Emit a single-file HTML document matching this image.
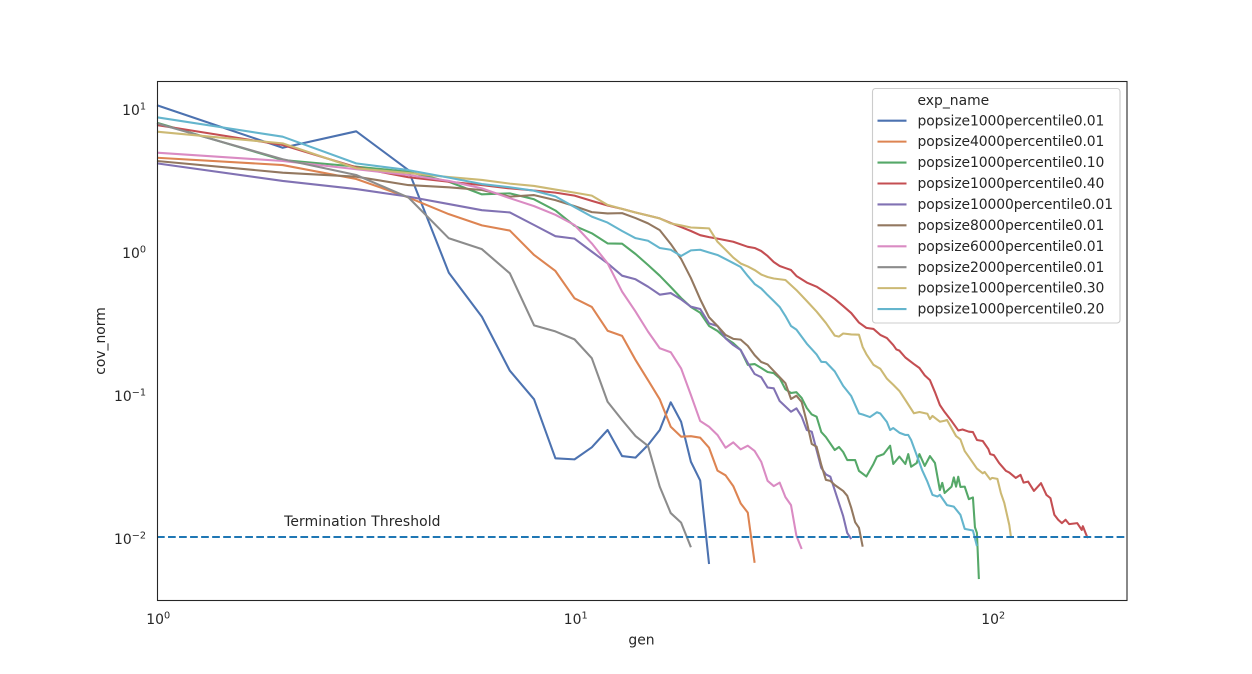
<!DOCTYPE html>
<html lang="en">
<head>
<meta charset="utf-8">
<title>cov_norm vs gen</title>
<style>
html,body{margin:0;padding:0;background:#fff;width:1252px;height:674px;overflow:hidden}
svg{display:block}
text{font-family:"DejaVu Sans","Liberation Sans",sans-serif;font-size:13.9px;fill:#262626}
</style>
</head>
<body>
<svg id="chart" xmlns="http://www.w3.org/2000/svg" width="1252" height="674" viewBox="0 0 1252 674">
  <rect x="157" y="82" width="970" height="518.5" fill="#fff"/>
  <g id="series-layer" fill="none"></g>
  <g id="threshold-layer"></g>
  <rect x="157.5" y="81.5" width="969.5" height="519" fill="none" stroke="#262626" stroke-width="1.1"/>
  <g id="tick-layer"></g>
  <text x="641.5" y="644.5" text-anchor="middle">gen</text>
  <text transform="translate(105,341) rotate(-90)" text-anchor="middle">cov_norm</text>
  <g id="legend-layer"></g>
</svg>
<script>
const xDomain = [1, 210.5];
const yDomain = [0.003597, 15.2];
const xTickExponents = [0, 1, 2];
const yTickExponents = [-2, -1, 0, 1];
const thresholdValue = 0.01;
const thresholdLabel = "Termination Threshold";
const thresholdLabelGen = 2;
const legendTitle = "exp_name";

const blueGens = [1,2,3,4,5,6,7,8,9,10,11,12,13,14,15,16,17,18,19,20,21];
const blueValues = [10.45,5.27,6.87,3.68,0.705,0.347,0.1455,0.0918,0.0355,0.0349,0.0424,0.056,0.0368,0.0359,0.044,0.056,0.0875,0.064,0.0336,0.0248,0.00647];

const orangeGens = [1,2,3,4,5,6,7,8,9,10,11,12,13,14,15,16,17,18,19,20,21,22,23,24,25,26,27];
const orangeValues = [4.49,3.99,3.19,2.37,1.81,1.51,1.39,0.938,0.725,0.467,0.406,0.277,0.255,0.173,0.125,0.0918,0.059,0.0503,0.0507,0.0495,0.0421,0.0291,0.027,0.0227,0.0172,0.0148,0.0066];

const greenGens = [1,2,3,4,5,6,7,8,9,10,11,12,13,14,15,16,17,18,19,20,21,22,23,24,25,26,27,28,29,30,31,32,33,34,35,36,37,38,39,40,42,43,44,45,47,48,50,52,53,55,57,58,60,62,63,64,66,67,69,71,73,75,76,77,80,81,82,83,84,86,88,90,91,92,93];
const greenValues = [7.89,4.33,3.89,3.58,3.05,2.49,2.53,2.3,1.92,1.5,1.33,1.13,1.125,0.953,0.798,0.672,0.56,0.469,0.406,0.37,0.299,0.276,0.246,0.227,0.203,0.16,0.162,0.152,0.1425,0.14,0.129,0.108,0.1016,0.103,0.0938,0.0798,0.0719,0.0694,0.0542,0.05,0.0406,0.0426,0.0393,0.0345,0.0345,0.029,0.0265,0.0324,0.0365,0.038,0.0435,0.0324,0.0365,0.0324,0.038,0.031,0.0329,0.038,0.0314,0.0368,0.0329,0.0213,0.0239,0.0203,0.0225,0.0261,0.0225,0.0264,0.0224,0.0225,0.0184,0.0189,0.0117,0.01067,0.00508];

const redGens = [1,2,3,4,5,6,7,8,9,10,11,12,13,14,15,16,17,18,19,20,21,22,24,26,27,28,29,30,31,32,33,34,36,38,40,42,44,46,48,50,52,54,56,58,59,60,62,65,67,69,71,73,75,77,80,83,85,88,90,92,95,98,99,101,104,108,110,114,117,119,122,126,131,135,138,141,144,147,150,153,160,164,165,169,170];
const redValues = [7.6,5.51,3.85,3.28,3.05,2.89,2.74,2.65,2.56,2.44,2.24,2.08,1.97,1.86,1.77,1.69,1.57,1.47,1.38,1.29,1.25,1.22,1.16,1.07,1.05,1.0,0.923,0.838,0.785,0.76,0.736,0.669,0.602,0.563,0.511,0.462,0.412,0.368,0.316,0.29,0.285,0.259,0.246,0.22,0.205,0.201,0.18,0.162,0.152,0.135,0.125,0.103,0.0838,0.0748,0.0647,0.0556,0.0565,0.0545,0.0542,0.0477,0.0469,0.0412,0.038,0.0374,0.0329,0.029,0.0282,0.0259,0.0272,0.024,0.0244,0.021,0.0238,0.0197,0.0187,0.0143,0.0132,0.0125,0.0132,0.0123,0.0125,0.0112,0.0119,0.01,0.0099];

const purpleGens = [1,2,3,4,5,6,7,8,9,10,11,12,13,14,15,16,17,18,19,20,21,22,23,24,25,26,27,28,29,30,31,33,34,35,36,37,39,40,41,44,45,46];
const purpleValues = [4.1,3.09,2.71,2.4,2.13,1.93,1.86,1.52,1.27,1.22,0.99,0.82,0.672,0.634,0.563,0.495,0.508,0.459,0.408,0.393,0.312,0.299,0.245,0.22,0.203,0.165,0.138,0.131,0.111,0.1096,0.0893,0.0752,0.0794,0.0694,0.056,0.0545,0.0304,0.0274,0.0264,0.014,0.01067,0.00968];

const brownGens = [1,2,3,4,5,6,7,8,9,10,11,12,13,14,15,16,17,18,19,20,21,22,23,24,25,26,27,28,29,30,32,33,34,35,36,37,38,39,40,41,42,43,44,45,46,47,48,49];
const brownValues = [4.26,3.53,3.31,2.89,2.79,2.67,2.4,2.46,2.27,2.06,1.87,1.83,1.84,1.7,1.56,1.4,1.12,0.88,0.647,0.46,0.344,0.299,0.259,0.243,0.24,0.217,0.187,0.1675,0.161,0.145,0.119,0.0923,0.0973,0.0879,0.0637,0.0447,0.0428,0.0319,0.0251,0.0247,0.0231,0.022,0.021,0.0194,0.016,0.0127,0.0116,0.00855];

const pinkGens = [1,2,3,4,5,6,7,8,9,10,11,12,13,14,15,16,17,18,19,20,21,22,23,24,25,26,27,28,29,30,31,32,33,34,35];
const pinkValues = [4.87,4.26,3.73,3.4,3.09,2.74,2.34,2.06,1.79,1.52,1.13,0.82,0.52,0.377,0.273,0.209,0.196,0.151,0.0984,0.0647,0.059,0.0517,0.0421,0.0459,0.041,0.0435,0.04,0.0336,0.0247,0.0227,0.024,0.019,0.0167,0.0102,0.00824];

const grayGens = [1,2,3,4,5,6,7,8,9,10,11,12,13,14,15,16,17,18,19];
const grayValues = [7.8,4.38,3.4,2.37,1.227,1.03,0.698,0.302,0.274,0.241,0.178,0.0883,0.0658,0.0508,0.0433,0.0225,0.0147,0.0126,0.00848];

const tanGens = [1,2,3,4,5,6,7,8,9,10,11,12,13,14,15,16,17,18,19,20,21,22,23,24,25,26,27,28,29,30,32,34,36,38,40,42,43,44,46,48,49,50,52,54,56,58,60,62,65,67,70,71,72,75,77,78,80,82,84,86,88,92,95,96,99,100,103,105,107,110,111];
const tanValues = [6.83,5.66,3.79,3.51,3.29,3.14,2.96,2.85,2.69,2.56,2.44,2.1,1.97,1.86,1.77,1.69,1.56,1.51,1.46,1.45,1.44,1.16,1.02,0.9,0.818,0.78,0.736,0.685,0.658,0.642,0.627,0.533,0.447,0.377,0.314,0.256,0.252,0.265,0.261,0.26,0.213,0.19,0.16,0.15,0.128,0.116,0.105,0.0908,0.0733,0.0748,0.0728,0.0668,0.0702,0.064,0.065,0.0658,0.0578,0.0508,0.0481,0.0399,0.0363,0.0301,0.0279,0.0285,0.0253,0.0259,0.0255,0.0203,0.0173,0.0121,0.01];

const cyanGens = [1,2,3,4,5,6,7,8,9,10,11,12,13,14,15,16,17,18,19,20,21,22,23,24,25,26,27,28,29,30,31,32,33,34,36,38,39,40,42,44,46,48,49,51,53,54,56,57,58,60,62,63,64,66,68,70,72,74,75,78,81,84,86,90,92];
const cyanValues = [8.61,6.3,4.1,3.68,3.26,2.94,2.79,2.64,2.41,2.03,1.74,1.58,1.38,1.23,1.18,1.05,1.02,0.923,1.01,1.02,0.976,0.938,0.879,0.824,0.773,0.669,0.588,0.547,0.492,0.447,0.406,0.351,0.299,0.282,0.225,0.189,0.168,0.167,0.144,0.114,0.0968,0.0731,0.0719,0.069,0.0745,0.0731,0.0637,0.056,0.0578,0.0536,0.0517,0.0517,0.0477,0.0374,0.0294,0.0244,0.0197,0.0192,0.0197,0.0167,0.0163,0.0143,0.0114,0.0111,0.00865];

const seriesNames = ["popsize1000percentile0.01","popsize4000percentile0.01","popsize1000percentile0.10","popsize1000percentile0.40","popsize10000percentile0.01","popsize8000percentile0.01","popsize6000percentile0.01","popsize2000percentile0.01","popsize1000percentile0.30","popsize1000percentile0.20"];
const seriesGens = [blueGens,orangeGens,greenGens,redGens,purpleGens,brownGens,pinkGens,grayGens,tanGens,cyanGens];
const seriesValues = [blueValues,orangeValues,greenValues,redValues,purpleValues,brownValues,pinkValues,grayValues,tanValues,cyanValues];
const seriesColors = ["#4c72b0","#dd8452","#55a868","#c44e52","#8172b3","#937860","#da8bc3","#8c8c8c","#ccb974","#64b5cd"];

const SVG_NS = "http://www.w3.org/2000/svg";
const plotLeft = 157, plotRight = 1127, plotTop = 82, plotBottom = 600.5;

function xScale(gen) {
  const lo = Math.log10(xDomain[0]), hi = Math.log10(xDomain[1]);
  return plotLeft + (Math.log10(gen) - lo) / (hi - lo) * (plotRight - plotLeft);
}
function yScale(value) {
  const lo = Math.log10(yDomain[0]), hi = Math.log10(yDomain[1]);
  return plotBottom - (Math.log10(value) - lo) / (hi - lo) * (plotBottom - plotTop);
}
function svgEl(tag, parent) {
  const el = document.createElementNS(SVG_NS, tag);
  parent.appendChild(el);
  return el;
}
function powerLabel(parent, x, y, anchor, exponent) {
  const t = svgEl("text", parent);
  t.setAttribute("x", x);
  t.setAttribute("y", y);
  t.setAttribute("text-anchor", anchor);
  
  
  const base = svgEl("tspan", t);
  base.textContent = "10";
  const sup = svgEl("tspan", t);
  sup.setAttribute("dy", "-5.6");
  sup.setAttribute("font-size", "9.7");
  sup.style.fontSize = "9.7px";
  sup.textContent = String(exponent).replace("-", "\u2212");
  return t;
}

const seriesLayer = document.getElementById("series-layer");
seriesNames.forEach(function (name, i) {
  const points = seriesGens[i].map(function (g, k) {
    return xScale(g).toFixed(2) + "," + yScale(seriesValues[i][k]).toFixed(2);
  });
  const line = svgEl("polyline", seriesLayer);
  line.setAttribute("points", points.join(" "));
  line.setAttribute("stroke", seriesColors[i]);
  line.setAttribute("stroke-width", "2.08");
  line.setAttribute("stroke-linejoin", "round");
  line.setAttribute("fill", "none");
  
  
  line.setAttribute("data-series", name);
});

const thresholdLayer = document.getElementById("threshold-layer");
const thresholdLine = svgEl("line", thresholdLayer);
thresholdLine.setAttribute("x1", plotLeft);
thresholdLine.setAttribute("x2", plotRight);
thresholdLine.setAttribute("y1", yScale(thresholdValue));
thresholdLine.setAttribute("y2", yScale(thresholdValue));
thresholdLine.setAttribute("stroke", "#1f77b4");
thresholdLine.setAttribute("stroke-width", "2.08");
thresholdLine.setAttribute("stroke-dasharray", "7.7 3.33");


const thresholdText = svgEl("text", thresholdLayer);
thresholdText.setAttribute("x", xScale(thresholdLabelGen) + 1.5);
thresholdText.setAttribute("y", yScale(thresholdValue) - 11);
thresholdText.setAttribute("letter-spacing", "0.1");
thresholdText.textContent = thresholdLabel;



const tickLayer = document.getElementById("tick-layer");
xTickExponents.forEach(function (e) {
  powerLabel(tickLayer, xScale(Math.pow(10, e)) + 1.2, 624, "middle", e);
});
yTickExponents.forEach(function (e) {
  powerLabel(tickLayer, 146, yScale(Math.pow(10, e)) + 7, "end", e);
});

const legendLayer = document.getElementById("legend-layer");
const legendBox = svgEl("rect", legendLayer);
legendBox.setAttribute("x", "872.5");
legendBox.setAttribute("y", "88.5");
legendBox.setAttribute("width", "247.5");
legendBox.setAttribute("height", "234.5");
legendBox.setAttribute("rx", "3");
legendBox.setAttribute("fill", "#fff");
legendBox.setAttribute("fill-opacity", "0.8");
legendBox.setAttribute("stroke", "#ccc");
legendBox.setAttribute("stroke-width", "1.1");


const legendHeading = svgEl("text", legendLayer);
legendHeading.setAttribute("x", "917.5");
legendHeading.setAttribute("y", "105");
legendHeading.textContent = legendTitle;


seriesNames.forEach(function (name, i) {
  const rowY = 120.7 + i * 20.93;
  const swatch = svgEl("line", legendLayer);
  swatch.setAttribute("x1", "877.5");
  swatch.setAttribute("x2", "906.5");
  swatch.setAttribute("y1", rowY);
  swatch.setAttribute("y2", rowY);
  swatch.setAttribute("stroke", seriesColors[i]);
  swatch.setAttribute("stroke-width", "2.08");
  
  
  const label = svgEl("text", legendLayer);
  label.setAttribute("x", "917.5");
  label.setAttribute("y", rowY + 4.6);
  label.setAttribute("letter-spacing", "-0.08");
  label.textContent = name;
  
  
});
</script>
</body>
</html>
